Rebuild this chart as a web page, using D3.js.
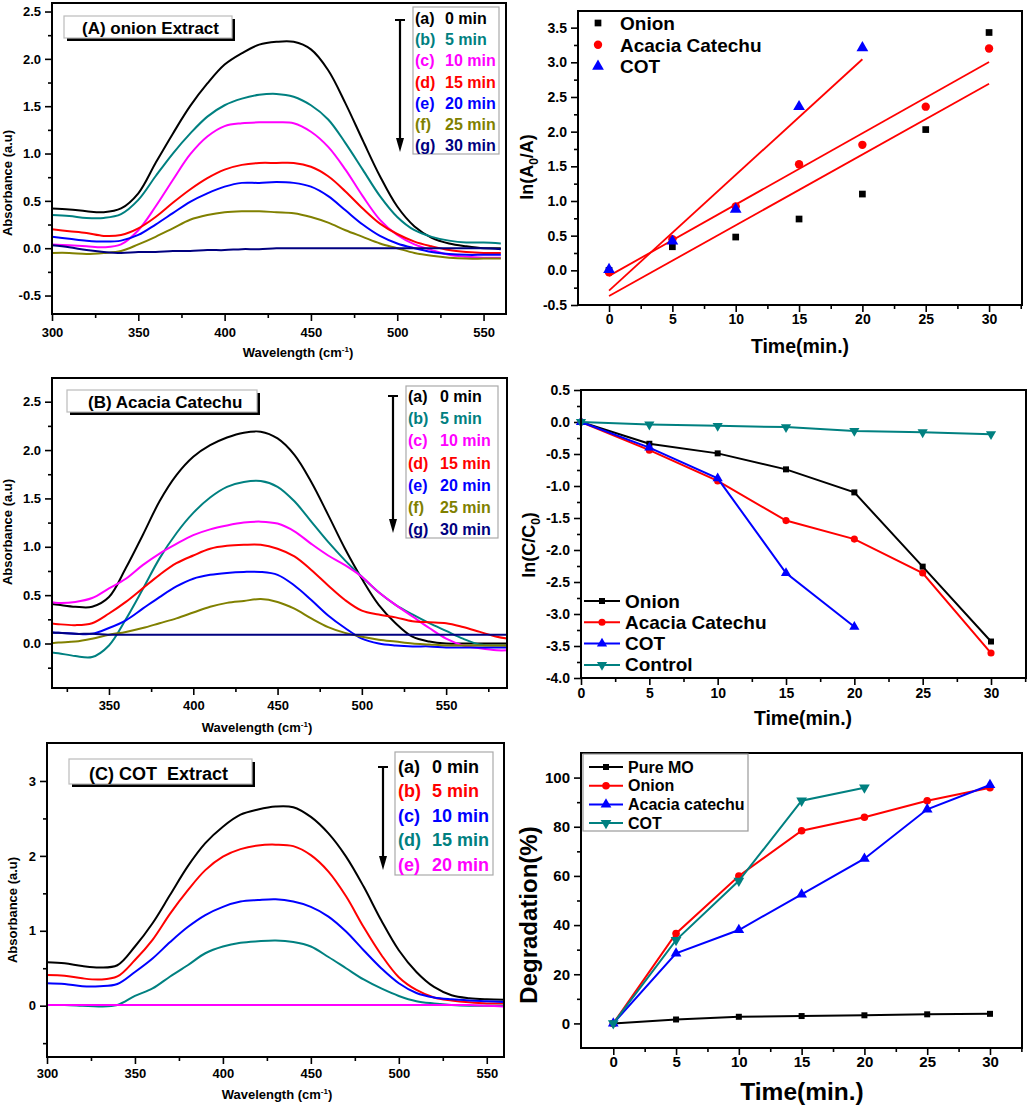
<!DOCTYPE html>
<html>
<head>
<meta charset="utf-8">
<script src="https://cdn.jsdelivr.net/npm/d3@7"></script>
<style>
body { margin: 0; background: #fff; }
text { font-family: "Liberation Sans", Arial, sans-serif; font-weight: bold; }
</style>
</head>
<body>
<svg id="fig" width="1028" height="1105"></svg>
<script>
// ---------- data ----------
// (A) onion extract spectra
var wlA = [300,310,320,330,340,350,360,370,380,390,400,410,420,430,440,450,460,470,480,490,500,510,520,530,540,550,560];
var onion_0  = [0.42,0.41,0.39,0.38,0.42,0.58,0.90,1.21,1.50,1.74,1.94,2.06,2.15,2.18,2.18,2.10,1.88,1.53,1.14,0.76,0.44,0.23,0.11,0.05,0.02,0.00,0.00];
var onion_5  = [0.35,0.34,0.32,0.32,0.36,0.51,0.76,1.00,1.21,1.39,1.51,1.58,1.62,1.63,1.60,1.51,1.36,1.11,0.83,0.55,0.33,0.19,0.12,0.08,0.06,0.06,0.05];
var onion_10 = [0.04,0.03,0.02,0.01,0.04,0.19,0.44,0.72,0.99,1.18,1.29,1.32,1.33,1.33,1.32,1.23,1.07,0.83,0.55,0.30,0.14,0.04,-0.02,-0.07,-0.09,-0.10,-0.10];
var onion_15 = [0.20,0.18,0.16,0.13,0.14,0.21,0.33,0.48,0.62,0.74,0.83,0.88,0.90,0.90,0.90,0.86,0.76,0.60,0.42,0.26,0.15,0.07,0.02,-0.02,-0.04,-0.05,-0.05];
var onion_20 = [0.12,0.10,0.08,0.07,0.08,0.14,0.25,0.37,0.49,0.58,0.65,0.69,0.69,0.70,0.69,0.65,0.55,0.40,0.25,0.13,0.05,0.00,-0.04,-0.06,-0.07,-0.07,-0.07];
var onion_25 = [-0.05,-0.05,-0.06,-0.05,-0.03,0.04,0.12,0.21,0.30,0.35,0.38,0.39,0.39,0.38,0.37,0.33,0.27,0.19,0.12,0.05,0.00,-0.05,-0.08,-0.10,-0.11,-0.11,-0.11];
var onion_30 = [0.03,0.01,-0.02,-0.04,-0.05,-0.04,-0.04,-0.03,-0.03,-0.02,-0.02,-0.01,-0.01,0.00,0.00,0.00,0.00,0.00,0.00,0.00,0.00,0.00,0.00,0.00,0.00,0.00,-0.01];

// (B) acacia catechu spectra
var wlB = [315,320,330,340,350,360,370,380,390,400,410,420,430,440,450,460,470,480,490,500,510,520,530,540,550,560,570,580,587];
var acacia_0  = [0.41,0.40,0.38,0.38,0.48,0.78,1.12,1.47,1.74,1.93,2.05,2.13,2.18,2.19,2.12,1.95,1.67,1.33,0.98,0.67,0.40,0.21,0.07,0.02,0.00,0.00,0.00,0.00,0.00];
var acacia_5  = [-0.09,-0.10,-0.13,-0.14,-0.02,0.25,0.56,0.88,1.14,1.35,1.51,1.62,1.67,1.68,1.62,1.47,1.26,1.05,0.86,0.69,0.53,0.40,0.30,0.21,0.13,0.05,-0.01,-0.02,-0.02];
var acacia_10 = [0.43,0.42,0.43,0.47,0.57,0.67,0.81,0.93,1.03,1.12,1.18,1.22,1.25,1.26,1.24,1.16,1.03,0.91,0.81,0.69,0.53,0.40,0.28,0.16,0.05,-0.02,-0.05,-0.07,-0.07];
var acacia_15 = [0.21,0.20,0.19,0.21,0.31,0.43,0.57,0.71,0.83,0.91,0.98,1.01,1.02,1.02,0.98,0.90,0.76,0.60,0.45,0.34,0.30,0.27,0.23,0.22,0.21,0.17,0.12,0.07,0.05];
var acacia_20 = [0.12,0.11,0.10,0.10,0.16,0.24,0.36,0.48,0.59,0.67,0.71,0.73,0.74,0.74,0.71,0.60,0.45,0.29,0.16,0.05,0.00,-0.02,-0.03,-0.03,-0.04,-0.04,-0.04,-0.04,-0.04];
var acacia_25 = [0.00,0.01,0.02,0.05,0.09,0.12,0.16,0.21,0.26,0.32,0.38,0.42,0.44,0.46,0.43,0.36,0.26,0.17,0.11,0.07,0.04,0.02,0.00,-0.01,-0.02,-0.02,-0.02,-0.02,-0.02];
var acacia_30 = [0.11,0.11,0.10,0.10,0.09,0.09,0.09,0.09,0.09,0.09,0.09,0.09,0.09,0.09,0.09,0.09,0.09,0.09,0.09,0.09,0.09,0.09,0.09,0.09,0.09,0.09,0.09,0.09,0.09];

// (C) COT extract spectra
var wlC = [300,310,320,330,340,350,360,370,380,390,400,410,420,430,440,450,460,470,480,490,500,510,520,530,540,550,560];
var cot_0  = [0.58,0.565,0.53,0.51,0.54,0.79,1.10,1.48,1.86,2.17,2.39,2.55,2.62,2.66,2.65,2.52,2.30,1.99,1.59,1.14,0.74,0.45,0.25,0.14,0.10,0.085,0.08];
var cot_5  = [0.41,0.40,0.365,0.35,0.39,0.61,0.88,1.23,1.54,1.81,1.99,2.09,2.14,2.15,2.13,2.01,1.79,1.46,1.05,0.68,0.38,0.21,0.11,0.07,0.045,0.03,0.03];
var cot_10 = [0.30,0.29,0.26,0.26,0.29,0.45,0.63,0.85,1.05,1.21,1.32,1.39,1.41,1.42,1.39,1.32,1.19,0.99,0.74,0.50,0.30,0.17,0.11,0.085,0.07,0.06,0.05];
var cot_15 = [0.01,0.01,0.00,-0.01,0.01,0.13,0.23,0.39,0.54,0.70,0.79,0.84,0.86,0.87,0.85,0.79,0.65,0.50,0.35,0.23,0.13,0.06,0.03,0.01,0.00,0.00,0.00];
var cot_20 = [0.01,0.01,0.01,0.01,0.01,0.01,0.01,0.01,0.01,0.01,0.01,0.01,0.01,0.01,0.01,0.01,0.01,0.01,0.01,0.01,0.01,0.01,0.01,0.01,0.01,0.00,-0.01];

var tagsAB = ["(a)","(b)","(c)","(d)","(e)","(f)","(g)"];
var minsAB = ["0 min","5 min","10 min","15 min","20 min","25 min","30 min"];
var tagsC = ["(a)","(b)","(c)","(d)","(e)"];
var minsC = ["0 min","5 min","10 min","15 min","20 min"];

// kinetics
var time7 = [0,5,10,15,20,25,30];
var time5 = [0,5,10,15,20];
var lnA_onion  = [0,0.34,0.48,0.74,1.10,2.03,3.43];
var lnA_acacia = [-0.03,0.45,0.92,1.53,1.81,2.36,3.20];
var lnA_cot    = [0.01,0.42,0.88,2.36,3.21];

var lnC_onion   = [0,-0.34,-0.49,-0.74,-1.10,-2.26,-3.43];
var lnC_acacia  = [0,-0.44,-0.92,-1.54,-1.83,-2.36,-3.61];
var lnC_cot     = [0,-0.40,-0.88,-2.36,-3.20];
var lnC_control = [0,-0.04,-0.06,-0.08,-0.14,-0.16,-0.19];

var deg_pureMO = [0,1.6,2.7,3.0,3.3,3.7,3.9];
var deg_onion  = [0,36.6,60,78.4,83.9,90.6,95.9];
var deg_acacia = [0,28.5,38,52.5,67,87.1,97];
var deg_cot    = [0,33.9,58,90.6,95.9];

// ---------- drawing ----------
var FONT = "'Liberation Sans', Arial, sans-serif";
var svg = d3.select("#fig");
svg.append("rect").attr("width", 1028).attr("height", 1105).attr("fill", "#fff");
var clipCount = 0;

function fmt1(d) { return d.toFixed(1); }
function fmt0(d) { return d.toFixed(0); }

function panel(o) {
  var x = d3.scaleLinear().domain(o.xd).range([o.l, o.r]);
  var y = d3.scaleLinear().domain(o.yd).range([o.b, o.t]);
  var g = svg.append("g");
  var id = "clip" + (clipCount++);
  svg.append("clipPath").attr("id", id).append("rect")
    .attr("x", o.l).attr("y", o.t).attr("width", o.r - o.l).attr("height", o.b - o.t);

  var xa = g.append("g").attr("transform", "translate(0," + o.b + ")");
  xa.append("g").call(d3.axisBottom(x).tickValues(o.xMinor).tickSize(4).tickFormat(""));
  xa.append("g").call(d3.axisBottom(x).tickValues(o.xMajor).tickSize(7).tickPadding(o.xPad).tickFormat(o.xFmt));
  var ya = g.append("g").attr("transform", "translate(" + o.l + ",0)");
  ya.append("g").call(d3.axisLeft(y).tickValues(o.yMinor).tickSize(4).tickFormat(""));
  ya.append("g").call(d3.axisLeft(y).tickValues(o.yMajor).tickSize(7).tickPadding(4).tickFormat(o.yFmt));
  g.selectAll(".domain").remove();
  g.selectAll(".tick line").attr("stroke-width", 1.6);
  g.selectAll(".tick text").attr("font-family", FONT).attr("font-weight", "bold")
    .attr("font-size", o.fs).attr("fill", "#000");

  var plot = g.append("g").attr("clip-path", "url(#" + id + ")");
  return { x: x, y: y, g: g, plot: plot, o: o };
}

function frame(p) {
  var o = p.o;
  p.g.append("rect").attr("x", o.l).attr("y", o.t)
    .attr("width", o.r - o.l).attr("height", o.b - o.t)
    .attr("fill", "none").attr("stroke", "#000").attr("stroke-width", 2);
}

function spectra(p, wl, series, colors) {
  var line = d3.line()
    .x(function(d, i) { return p.x(wl[i]); })
    .y(function(d) { return p.y(d); })
    .curve(d3.curveCatmullRom.alpha(0.5));
  p.plot.selectAll(null).data(series).enter().append("path")
    .attr("d", line).attr("fill", "none")
    .attr("stroke", function(d, i) { return colors[i]; })
    .attr("stroke-width", 2);
}

function timeLegend(box, tags, labels, colors, fs, xTag, xLab, y0, dy, arrow) {
  svg.append("rect").attr("x", box[0]).attr("y", box[1])
    .attr("width", box[2] - box[0]).attr("height", box[3] - box[1])
    .attr("fill", "#fff").attr("stroke", "#aaa").attr("stroke-width", 1.2);
  tags.forEach(function(t, i) {
    svg.append("text").attr("x", xTag).attr("y", y0 + i * dy).attr("font-size", fs)
      .attr("fill", colors[i]).text(t);
    svg.append("text").attr("x", xLab).attr("y", y0 + i * dy).attr("font-size", fs)
      .attr("fill", colors[i]).text(labels[i]);
  });
  var ax = arrow[0], top = arrow[1], bot = arrow[2];
  svg.append("line").attr("x1", ax).attr("x2", ax).attr("y1", top).attr("y2", bot - 10)
    .attr("stroke", "#000").attr("stroke-width", 2.2);
  svg.append("line").attr("x1", ax - 5).attr("x2", ax + 5).attr("y1", top).attr("y2", top)
    .attr("stroke", "#000").attr("stroke-width", 2);
  svg.append("path").attr("d", "M" + (ax - 4) + "," + (bot - 14) + "L" + (ax + 4) + "," + (bot - 14) + "L" + ax + "," + bot + "Z")
    .attr("fill", "#000");
}

function tagBox(box, str, tx, ty, fs) {
  svg.append("rect").attr("x", box[0] + 3).attr("y", box[1] + 3)
    .attr("width", box[2] - box[0]).attr("height", box[3] - box[1]).attr("fill", "#000");
  svg.append("rect").attr("x", box[0]).attr("y", box[1])
    .attr("width", box[2] - box[0]).attr("height", box[3] - box[1])
    .attr("fill", "#fff").attr("stroke", "#bbb").attr("stroke-width", 1.2);
  svg.append("text").attr("x", tx).attr("y", ty).attr("font-size", fs)
    .attr("xml:space", "preserve").style("white-space", "pre").text(str);
}

function wavelengthTitle(cx, by) {
  var t = svg.append("text").attr("x", cx).attr("y", by).attr("font-size", 13).attr("text-anchor", "middle");
  t.append("tspan").text("Wavelength (cm");
  t.append("tspan").attr("dy", -5).attr("font-size", 8).text("-1");
  t.append("tspan").attr("dy", 5).text(")");
}

function yTitle(x, cy, fs, parts) {
  var t = svg.append("text").attr("transform", "translate(" + x + "," + cy + ") rotate(-90)")
    .attr("font-size", fs).attr("text-anchor", "middle");
  parts.forEach(function(pt) {
    var s = t.append("tspan").text(pt[0]);
    if (pt[1]) s.attr("dy", pt[1]);
    if (pt[2]) s.attr("font-size", pt[2]);
  });
}

function xTitle(cx, by, fs, str) {
  svg.append("text").attr("x", cx).attr("y", by).attr("font-size", fs)
    .attr("text-anchor", "middle").text(str);
}

function lineMarkers(p, xs, ys, color, sym, size, flip) {
  p.g.append("path").datum(ys)
    .attr("d", d3.line().x(function(d, i) { return p.x(xs[i]); }).y(function(d) { return p.y(d); }))
    .attr("fill", "none").attr("stroke", color).attr("stroke-width", 2);
  markers(p, xs, ys, color, sym, size, flip);
}

function markers(p, xs, ys, color, sym, size, flip) {
  p.g.selectAll(null).data(ys).enter().append("path")
    .attr("d", d3.symbol().type(sym).size(size))
    .attr("transform", function(d, i) {
      return "translate(" + p.x(xs[i]) + "," + p.y(d) + ")" + (flip ? " rotate(180)" : "");
    })
    .attr("fill", color);
}

function fit(xs, ys) {
  var mx = d3.mean(xs), my = d3.mean(ys);
  var sxy = d3.sum(xs, function(v, i) { return (v - mx) * (ys[i] - my); });
  var sxx = d3.sum(xs, function(v) { return (v - mx) * (v - mx); });
  var k = sxy / sxx;
  return [k, my - k * mx];
}

var colAB = ["#000000","#008080","#ff00ff","#ff0000","#0000ff","#808000","#000080"];
var colC = ["#000000","#ff0000","#0000ff","#008080","#ff00ff"];

// ===== (A) onion spectra =====
var pA = panel({ l: 52, r: 506, t: 3, b: 314, xd: [300, 563], yd: [-0.695, 2.59],
  xMajor: [300,350,400,450,500,550], xMinor: [325,375,425,475,525],
  yMajor: [-0.5,0,0.5,1,1.5,2,2.5], yMinor: [-0.25,0.25,0.75,1.25,1.75,2.25],
  xFmt: fmt0, yFmt: fmt1, fs: 13, xPad: 7 });
spectra(pA, wlA, [onion_0, onion_5, onion_10, onion_15, onion_20, onion_25, onion_30], colAB);
frame(pA);
tagBox([64, 16, 232, 38], "(A) onion Extract", 82, 34, 17);
timeLegend([413, 7, 499, 154], tagsAB, minsAB, colAB, 16, 415, 445, 24, 21.2, [400, 20, 152]);
wavelengthTitle(298, 357);
yTitle(12, 183, 13, [["Absorbance (a.u)"]]);

// ===== (A) right: ln(A0/A) =====
var pK = panel({ l: 578, r: 1022, t: 11, b: 305, xd: [-2.45, 32.6], yd: [-0.5, 3.74],
  xMajor: [0,5,10,15,20,25,30], xMinor: [2.5,7.5,12.5,17.5,22.5,27.5,32.5],
  yMajor: [-0.5,0,0.5,1,1.5,2,2.5,3,3.5], yMinor: [-0.25,0.25,0.75,1.25,1.75,2.25,2.75,3.25],
  xFmt: fmt0, yFmt: fmt1, fs: 14, xPad: 2 });
[[time7, lnA_onion], [time7, lnA_acacia], [time5, lnA_cot]].forEach(function(s) {
  var f = fit(s[0], s[1]);
  var x0 = s[0][0], x1 = s[0][s[0].length - 1];
  pK.g.append("line").attr("x1", pK.x(x0)).attr("y1", pK.y(f[1] + f[0] * x0))
    .attr("x2", pK.x(x1)).attr("y2", pK.y(f[1] + f[0] * x1))
    .attr("stroke", "#ff0000").attr("stroke-width", 1.8);
});
markers(pK, time7, lnA_onion, "#000", d3.symbolSquare, 45);
markers(pK, time7, lnA_acacia, "#ff0000", d3.symbolCircle, 55);
markers(pK, time5, lnA_cot, "#0000ff", d3.symbolTriangle, 60);
frame(pK);
var legK = [["Onion", "#000", d3.symbolSquare, 45], ["Acacia Catechu", "#ff0000", d3.symbolCircle, 55], ["COT", "#0000ff", d3.symbolTriangle, 60]];
legK.forEach(function(r, i) {
  var cy = 23 + i * 21.7;
  svg.append("path").attr("d", d3.symbol().type(r[2]).size(r[3])).attr("transform", "translate(598," + cy + ")").attr("fill", r[1]);
  svg.append("text").attr("x", 620).attr("y", cy + 7).attr("font-size", 19).text(r[0]);
});
xTitle(800, 353, 19.5, "Time(min.)");
yTitle(533, 167, 18, [["ln(A"], ["0", 5, 12], ["/A)", -5]]);

// ===== (B) acacia spectra =====
var pB = panel({ l: 52, r: 507, t: 378, b: 688, xd: [316.2, 586.1], yd: [-0.46, 2.745],
  xMajor: [350,400,450,500,550], xMinor: [325,375,425,475,525,575],
  yMajor: [0,0.5,1,1.5,2,2.5], yMinor: [-0.25,0.25,0.75,1.25,1.75,2.25],
  xFmt: fmt0, yFmt: fmt1, fs: 13, xPad: 6 });
spectra(pB, wlB, [acacia_0, acacia_5, acacia_10, acacia_15, acacia_20, acacia_25, acacia_30], colAB);
frame(pB);
tagBox([67, 390, 257, 412], "(B) Acacia Catechu", 88, 408, 17);
timeLegend([406, 386, 498, 538], tagsAB, minsAB, colAB, 16, 408, 440, 402, 22.2, [393, 396, 533]);
wavelengthTitle(257, 732);
yTitle(12, 532, 13, [["Absorbance (a.u)"]]);

// ===== (B) right: ln(C/C0) =====
var pL = panel({ l: 581, r: 1026, t: 390, b: 678, xd: [0, 32.56], yd: [-4, 0.5],
  xMajor: [0,5,10,15,20,25,30], xMinor: [2.5,7.5,12.5,17.5,22.5,27.5,32.5],
  yMajor: [-4,-3.5,-3,-2.5,-2,-1.5,-1,-0.5,0,0.5], yMinor: [-3.75,-3.25,-2.75,-2.25,-1.75,-1.25,-0.75,-0.25,0.25],
  xFmt: fmt0, yFmt: fmt1, fs: 14, xPad: 3 });
lineMarkers(pL, time7, lnC_onion, "#000", d3.symbolSquare, 36);
lineMarkers(pL, time7, lnC_acacia, "#ff0000", d3.symbolCircle, 40);
lineMarkers(pL, time5, lnC_cot, "#0000ff", d3.symbolTriangle, 45);
lineMarkers(pL, time7, lnC_control, "#008080", d3.symbolTriangle, 45, true);
frame(pL);
var legL = [["Onion", "#000", d3.symbolSquare, 36, false], ["Acacia Catechu", "#ff0000", d3.symbolCircle, 40, false],
            ["COT", "#0000ff", d3.symbolTriangle, 45, false], ["Control", "#008080", d3.symbolTriangle, 45, true]];
legL.forEach(function(r, i) {
  var cy = 601 + i * 21.3;
  svg.append("line").attr("x1", 584).attr("x2", 620).attr("y1", cy).attr("y2", cy).attr("stroke", r[1]).attr("stroke-width", 2);
  svg.append("path").attr("d", d3.symbol().type(r[2]).size(r[3]))
    .attr("transform", "translate(602," + cy + ")" + (r[4] ? " rotate(180)" : "")).attr("fill", r[1]);
  svg.append("text").attr("x", 625).attr("y", cy + 6.5).attr("font-size", 19).text(r[0]);
});
xTitle(803, 725, 19.5, "Time(min.)");
yTitle(535, 545, 18, [["ln(C/C"], ["0", 5, 12], [")", -5]]);

// ===== (C) COT spectra =====
var pC = panel({ l: 47, r: 504, t: 743, b: 1057, xd: [300, 559.8], yd: [-0.685, 3.507],
  xMajor: [300,350,400,450,500,550], xMinor: [325,375,425,475,525],
  yMajor: [0,1,2,3], yMinor: [-0.5,0.5,1.5,2.5],
  xFmt: fmt0, yFmt: fmt0, fs: 13, xPad: 5 });
spectra(pC, wlC, [cot_0, cot_5, cot_10, cot_15, cot_20], colC);
frame(pC);
tagBox([69, 759, 252, 784], "(C) COT  Extract", 89, 780, 18);
timeLegend([395, 752, 493, 875], tagsC, minsC, colC, 18, 398, 432, 773, 24.4, [383, 767, 870]);
wavelengthTitle(277, 1099);
yTitle(17, 910, 13, [["Absorbance (a.u)"]]);

// ===== (C) right: degradation =====
var pD = panel({ l: 581, r: 1022, t: 753, b: 1048, xd: [-2.57, 32.55], yd: [-10, 110],
  xMajor: [0,5,10,15,20,25,30], xMinor: [2.5,7.5,12.5,17.5,22.5,27.5,32.5],
  yMajor: [0,20,40,60,80,100], yMinor: [10,30,50,70,90],
  xFmt: fmt0, yFmt: fmt0, fs: 15, xPad: 1.5 });
lineMarkers(pD, time7, deg_pureMO, "#000", d3.symbolSquare, 36);
lineMarkers(pD, time7, deg_onion, "#ff0000", d3.symbolCircle, 45);
lineMarkers(pD, time7, deg_acacia, "#0000ff", d3.symbolTriangle, 50);
lineMarkers(pD, time5, deg_cot, "#008080", d3.symbolTriangle, 50, true);
frame(pD);
svg.append("rect").attr("x", 583).attr("y", 754).attr("width", 165).attr("height", 77)
  .attr("fill", "#fff").attr("stroke", "#999").attr("stroke-width", 1.2);
var legD = [["Pure MO", "#000", d3.symbolSquare, 36, false], ["Onion", "#ff0000", d3.symbolCircle, 45, false],
            ["Acacia catechu", "#0000ff", d3.symbolTriangle, 50, false], ["COT", "#008080", d3.symbolTriangle, 50, true]];
legD.forEach(function(r, i) {
  var cy = 767 + i * 18.7;
  svg.append("line").attr("x1", 589).attr("x2", 623).attr("y1", cy).attr("y2", cy).attr("stroke", r[1]).attr("stroke-width", 2);
  svg.append("path").attr("d", d3.symbol().type(r[2]).size(r[3]))
    .attr("transform", "translate(606," + cy + ")" + (r[4] ? " rotate(180)" : "")).attr("fill", r[1]);
  svg.append("text").attr("x", 628).attr("y", cy + 5.5).attr("font-size", 16).text(r[0]);
});
xTitle(802, 1100, 24.5, "Time(min.)");
yTitle(537, 915, 24, [["Degradation(%)"]]);
</script>
</body>
</html>
